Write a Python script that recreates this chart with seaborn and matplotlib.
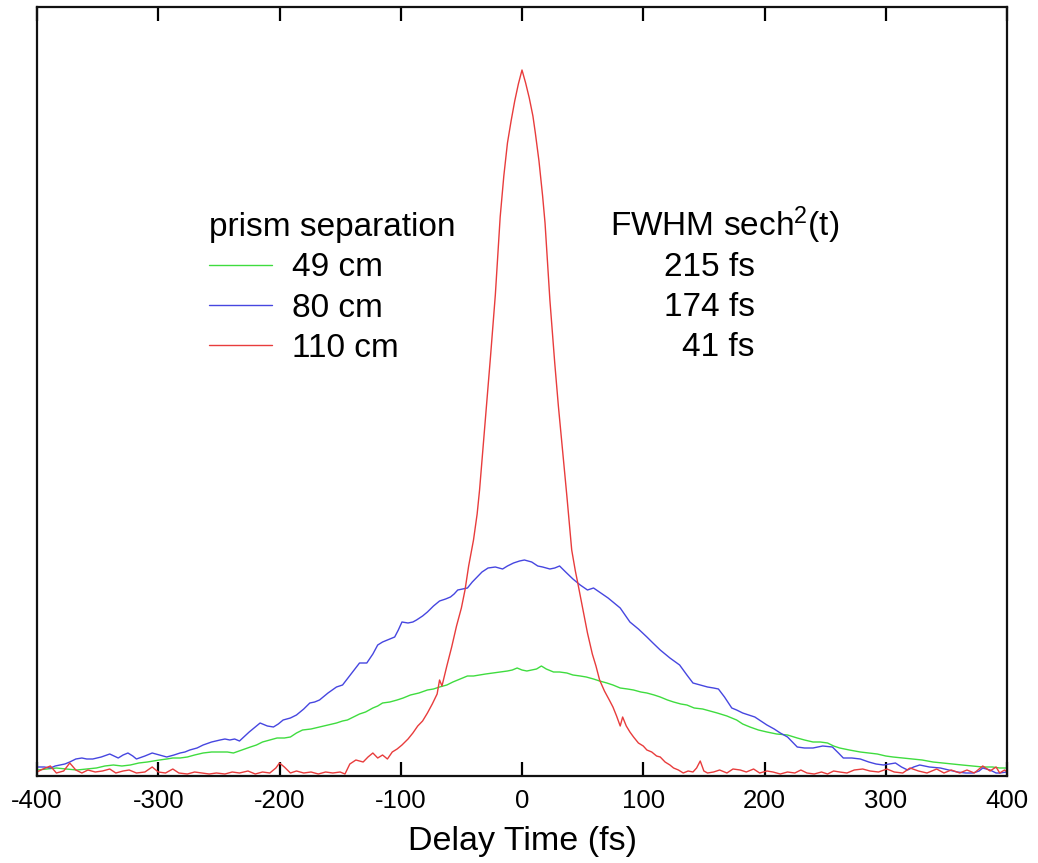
import matplotlib
matplotlib.use("Agg")
import matplotlib.pyplot as plt
import seaborn as sns
import pandas as pd

# ---- data (arbitrary intensity units) ----
red_t = [-400,-395,-389,-384,-378,-373,-368,-363,-358,-352,-346,-340,-335,-329,-324,-318,-311,-305,-300,-294,-288,-283,-276,-270,-264,-258,-252,-245,-239,-233,-226,-220,-214,-208,-203,-200,-196,-191,-186,-180,-174,-168,-162,-156,-150,-146,-142,-137,-131,-127,-123,-119,-115,-111,-107,-103,-99,-94,-90,-86,-82,-78,-74,-70,-68,-66,-62,-58,-54,-50,-47,-44,-40,-37,-35,-32,-29,-26,-22,-18,-15,-12,-9,-6,-3,0,3,6,9,11,14,17,19,21,23,25,27,30,34,37,41,44,46,50,54,58,61,64,68,72,75,78,81,83,86,89,92,96,100,103,107,111,114,118,122,125,129,133,137,141,144,147,150,153,158,163,169,174,180,185,191,196,202,207,213,219,225,230,235,241,247,252,257,262,268,274,281,287,294,301,307,314,320,327,334,342,348,354,361,367,373,380,386,391,394,398,400]
red_v = [4,7,10,3,5,13,6,3,6,4,5,7,3,5,6,3,4,9,4,3,7,3,2,4,3,2,3,2,4,3,5,2,4,3,8,13,9,3,5,3,4,2,4,3,4,2,12,16,14,19,23,18,21,17,24,27,31,37,43,50,55,63,72,82,96,90,110,129,150,168,186,210,236,262,286,330,375,419,481,559,600,633,655,675,692,706,693,678,660,643,615,580,553,515,476,445,413,370,319,280,226,205,193,168,143,122,110,96,85,76,69,60,50,59,50,44,39,33,30,26,24,20,19,14,11,8,6,3,5,4,8,15,5,3,4,6,3,7,6,4,7,3,5,4,2,4,3,6,3,2,4,2,5,4,3,6,7,5,4,7,4,3,8,5,3,7,3,6,3,6,3,10,5,9,3,6,4]

blue_t = [-400,-394,-389,-385,-381,-377,-373,-368,-363,-359,-354,-347,-340,-333,-329,-325,-321,-318,-311,-305,-299,-293,-287,-282,-278,-274,-268,-263,-256,-249,-245,-241,-237,-233,-225,-216,-210,-205,-201,-197,-191,-186,-180,-175,-171,-167,-160,-153,-148,-141,-134,-128,-123,-119,-115,-111,-105,-102,-99,-94,-90,-87,-82,-78,-73,-68,-63,-59,-56,-53,-49,-45,-41,-37,-33,-28,-22,-16,-12,-7,-2,2,5,8,13,17,23,27,31,36,42,48,54,59,65,71,76,81,85,89,96,103,108,114,122,130,136,141,147,153,158,162,167,173,177,182,187,192,197,202,208,213,219,223,227,233,240,248,256,261,265,272,279,286,292,298,303,308,313,318,323,328,336,345,352,359,366,372,377,380,386,391,394,400]
blue_v = [9,9,8,10,11,12,14,17,18,17,17,19,22,18,21,23,20,17,20,23,21,19,21,23,24,26,28,31,34,36,37,36,37,35,44,53,50,49,52,56,58,61,67,73,74,76,83,89,91,102,113,113,122,131,134,136,139,146,154,153,154,156,160,164,170,175,177,179,182,186,187,188,194,199,204,208,209,207,210,213,215,216,215,214,210,209,207,208,210,204,197,191,186,188,183,178,173,168,161,154,147,139,133,126,118,111,101,93,91,89,88,87,79,68,66,63,61,59,55,51,47,43,39,34,29,28,28,30,29,23,18,18,17,14,12,11,12,13,9,6,9,11,9,8,6,4,3,3,5,8,6,3,3,4]

green_t = [-400,-392,-384,-376,-367,-359,-351,-344,-337,-330,-323,-316,-309,-304,-299,-293,-288,-282,-276,-270,-263,-256,-249,-243,-238,-231,-224,-219,-214,-208,-202,-196,-191,-186,-181,-174,-167,-160,-153,-148,-144,-139,-134,-129,-123,-119,-115,-109,-103,-98,-92,-85,-78,-73,-68,-62,-57,-51,-45,-40,-35,-30,-24,-18,-12,-8,-4,0,4,8,12,16,20,26,31,37,42,48,53,59,64,70,75,81,87,92,98,103,109,114,120,125,131,136,142,149,155,161,169,177,182,188,195,202,210,219,227,233,240,246,252,257,262,270,279,286,293,300,306,314,322,330,339,347,355,363,372,380,388,394,400]
green_v = [6,7,8,7,6,7,8,10,11,10,11,13,14,15,16,17,18,18,19,21,23,24,24,24,23,26,29,31,34,36,38,38,39,43,46,47,49,51,53,55,56,59,62,64,68,70,73,74,76,78,81,83,86,87,89,91,94,97,100,100,101,102,103,104,105,106,108,106,105,106,107,110,107,104,104,103,101,100,99,97,95,93,91,88,87,86,84,83,81,79,76,74,72,71,68,67,65,63,60,56,52,49,46,44,42,41,38,36,34,34,33,30,28,26,24,23,22,20,19,18,17,16,14,13,12,11,10,9,9,8,8]

series_labels = ["49 cm", "80 cm", "110 cm"]
fwhm_labels = ["215 fs", "174 fs", "41 fs"]
series_colors = ["#3fdc3f", "#4646e0", "#e83c3c"]
xticks = [-400, -300, -200, -100, 0, 100, 200, 300, 400]

df = pd.concat([
    pd.DataFrame({"t": green_t, "v": green_v, "sep": series_labels[0]}),
    pd.DataFrame({"t": blue_t, "v": blue_v, "sep": series_labels[1]}),
    pd.DataFrame({"t": red_t, "v": red_v, "sep": series_labels[2]}),
], ignore_index=True)

sns.set_style("ticks")
plt.rcParams["font.family"] = ["Liberation Sans", "DejaVu Sans"]
plt.rcParams["mathtext.fontset"] = "custom"
plt.rcParams["mathtext.rm"] = "Liberation Sans"
plt.rcParams["mathtext.default"] = "regular"
plt.rcParams["text.color"] = "black"
plt.rcParams["axes.labelcolor"] = "black"
plt.rcParams["xtick.color"] = "black"

fig = plt.figure(figsize=(10.38, 8.63), dpi=100)
ax = fig.add_axes([37/1038, 87/863, 970/1038, 769/863])

sns.lineplot(data=df, x="t", y="v", hue="sep", hue_order=series_labels,
             palette=dict(zip(series_labels, series_colors)),
             estimator=None, sort=True, linewidth=1.0, ax=ax)

ax.set_xlim(-400, 400)
ax.set_ylim(0, 769)
ax.set_xticks(xticks)
ax.set_xticklabels([str(v) for v in xticks])
ax.set_yticks([])
ax.set_ylabel("")
ax.set_xlabel("Delay Time (fs)", fontsize=24.5, labelpad=10, color="black")
ax.tick_params(axis="x", direction="in", top=True, bottom=True, length=10,
               width=1.6, labelsize=18.5, pad=9, colors="black")
for s in ax.spines.values():
    s.set_linewidth(1.6)
    s.set_color("#111111")

handles, labels = ax.get_legend_handles_labels()
leg = ax.legend(handles, labels, title="prism separation", loc="upper left",
                bbox_to_anchor=((209-37)/970, (776-212)/769), frameon=False,
                fontsize=24, title_fontsize=24, handlelength=1.9,
                handletextpad=0.6, labelspacing=0.28, borderpad=0,
                borderaxespad=0, alignment="left")
for line in leg.get_lines():
    line.set_linewidth(1.0)
for txt in leg.get_texts():
    txt.set_color("black")
leg.get_title().set_color("black")

ax.text((610-37)/970, (776-225)/769, r"FWHM sech$^{2}$(t)", transform=ax.transAxes,
        fontsize=24, ha="left", va="center", color="black")
for i, lab in enumerate(fwhm_labels):
    ax.text((755-37)/970, (776-268-40*i)/769, lab, transform=ax.transAxes,
            fontsize=24, ha="right", va="center", color="black")

fig.savefig("out.png", dpi=100)
